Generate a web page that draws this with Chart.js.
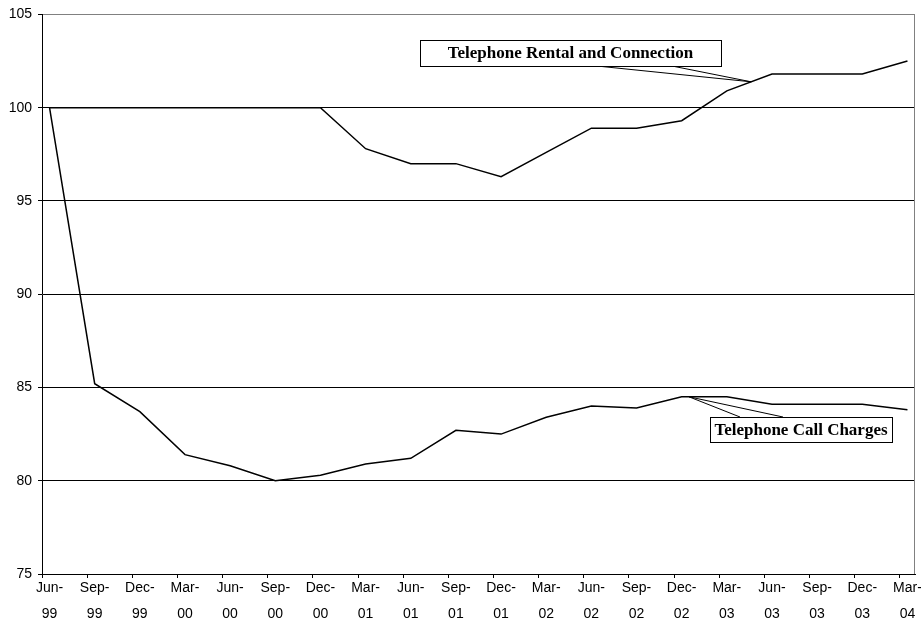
<!DOCTYPE html>
<html><head><meta charset="utf-8">
<script src="https://cdn.jsdelivr.net/npm/chart.js@4.4.1/dist/chart.umd.min.js"></script>
<style>html,body{margin:0;padding:0;background:#fff;}#wrap{width:921px;height:620px;}</style>
</head><body><div id="wrap"><canvas id="c" width="921" height="620"></canvas></div>
<script>
const categories = ["Jun-99","Sep-99","Dec-99","Mar-00","Jun-00","Sep-00","Dec-00","Mar-01","Jun-01","Sep-01","Dec-01","Mar-02","Jun-02","Sep-02","Dec-02","Mar-03","Jun-03","Sep-03","Dec-03","Mar-04"];
const rentalConnection = [100,100,100,100,100,100,100,97.8,97.0,97.0,96.3,97.6,98.9,98.9,99.3,100.9,101.8,101.8,101.8,102.5];
const callCharges = [100,85.2,83.7,81.4,80.8,80.0,80.3,80.9,81.2,82.7,82.5,83.4,84.0,83.9,84.5,84.5,84.1,84.1,84.1,83.8];
const yTicks = [75,80,85,90,95,100,105];
const seriesNames = ["Telephone Rental and Connection","Telephone Call Charges"];

// data points sit mid-month, a fraction of a quarter after each period tick
const pointOffset = 0.167;
const xMax = categories.length - 1 + 0.334;

function toPoints(vals){ return vals.map((v,i)=>({x:i+pointOffset,y:v})); }

const callouts = [
  {series:0, seg:15, t:0.54, box:{left:420, top:40, width:301, height:26}, base:[597,672], edge:'bottom'},
  {series:1, seg:14, t:0.16, box:{left:710, top:417, width:182, height:25}, base:[740,783], edge:'top'}
];

const plotBorder = {
  id:'plotBorder',
  beforeDatasetsDraw(chart){
    const {ctx, chartArea:a} = chart;
    ctx.save();
    ctx.strokeStyle = '#808080'; ctx.lineWidth = 1;
    ctx.beginPath();
    ctx.moveTo(Math.round(a.right)-0.5, a.top);
    ctx.lineTo(Math.round(a.right)-0.5, a.bottom);
    ctx.stroke();
    ctx.restore();
  }
};

const calloutPlugin = {
  id:'callouts',
  afterDatasetsDraw(chart){
    const {ctx} = chart;
    const xs = chart.scales.x, ys = chart.scales.y;
    ctx.save();
    callouts.forEach(c=>{
      const vals = chart.data.datasets[c.series].data;
      const p0 = vals[c.seg], p1 = vals[c.seg+1];
      const ax = xs.getPixelForValue(p0.x + (p1.x-p0.x)*c.t);
      const ay = ys.getPixelForValue(p0.y + (p1.y-p0.y)*c.t);
      const b = c.box;
      const ey = c.edge === 'bottom' ? b.top + b.height : b.top;
      ctx.strokeStyle = '#000'; ctx.lineWidth = 1;
      ctx.beginPath();
      ctx.moveTo(c.base[0], ey); ctx.lineTo(ax, ay); ctx.lineTo(c.base[1], ey);
      ctx.stroke();
      ctx.fillStyle = '#fff';
      ctx.fillRect(b.left, b.top, b.width, b.height);
      ctx.strokeRect(b.left+0.5, b.top+0.5, b.width, b.height);
      ctx.fillStyle = '#000';
      ctx.font = 'bold 17px "Liberation Serif", "Times New Roman", serif';
      ctx.textAlign = 'center'; ctx.textBaseline = 'alphabetic';
      ctx.fillText(seriesNames[c.series], b.left + b.width/2, b.top + 17.5);
    });
    ctx.restore();
  }
};

new Chart(document.getElementById('c'), {
  type:'line',
  data:{
    datasets:[
      {label:seriesNames[0], data:toPoints(rentalConnection), borderColor:'#000', borderWidth:1.5, pointRadius:0, tension:0, fill:false},
      {label:seriesNames[1], data:toPoints(callCharges), borderColor:'#000', borderWidth:1.5, pointRadius:0, tension:0, fill:false}
    ]
  },
  options:{
    responsive:false, animation:false, devicePixelRatio:1,
    layout:{padding:{top:14, right:6, left:0, bottom:0}},
    plugins:{legend:{display:false}, tooltip:{enabled:false}},
    scales:{
      x:{
        type:'linear', min:0, max:xMax,
        afterBuildTicks(s){ s.ticks = categories.map((_,i)=>({value:i})); },
        afterFit(s){ s.height = 46; },
        ticks:{
          callback(v){ const c = categories[v]; return c ? [c.slice(0,4), c.slice(4)] : ''; },
          labelOffset:7.5, maxRotation:0, minRotation:0, autoSkip:false, padding:-3, color:'#000',
          font:{family:'"Liberation Sans", Arial, sans-serif', size:14, lineHeight:1.857}
        },
        grid:{drawOnChartArea:false, drawTicks:true, tickLength:4, tickColor:'#000', color:'#000'},
        border:{color:'#000', width:1}
      },
      y:{
        type:'linear', min:75, max:105,
        afterBuildTicks(s){ s.ticks = yTicks.map(v=>({value:v})); },
        afterFit(s){ s.width = 42; },
        ticks:{padding:6, color:'#000', font:{family:'"Liberation Sans", Arial, sans-serif', size:14}},
        grid:{color:(ctx)=> (ctx.tick && ctx.tick.value === 105) ? '#808080' : '#000', tickLength:4, tickColor:'#000', lineWidth:1},
        border:{color:'#000', width:1}
      }
    }
  },
  plugins:[plotBorder, calloutPlugin]
});
</script>
</body></html>
